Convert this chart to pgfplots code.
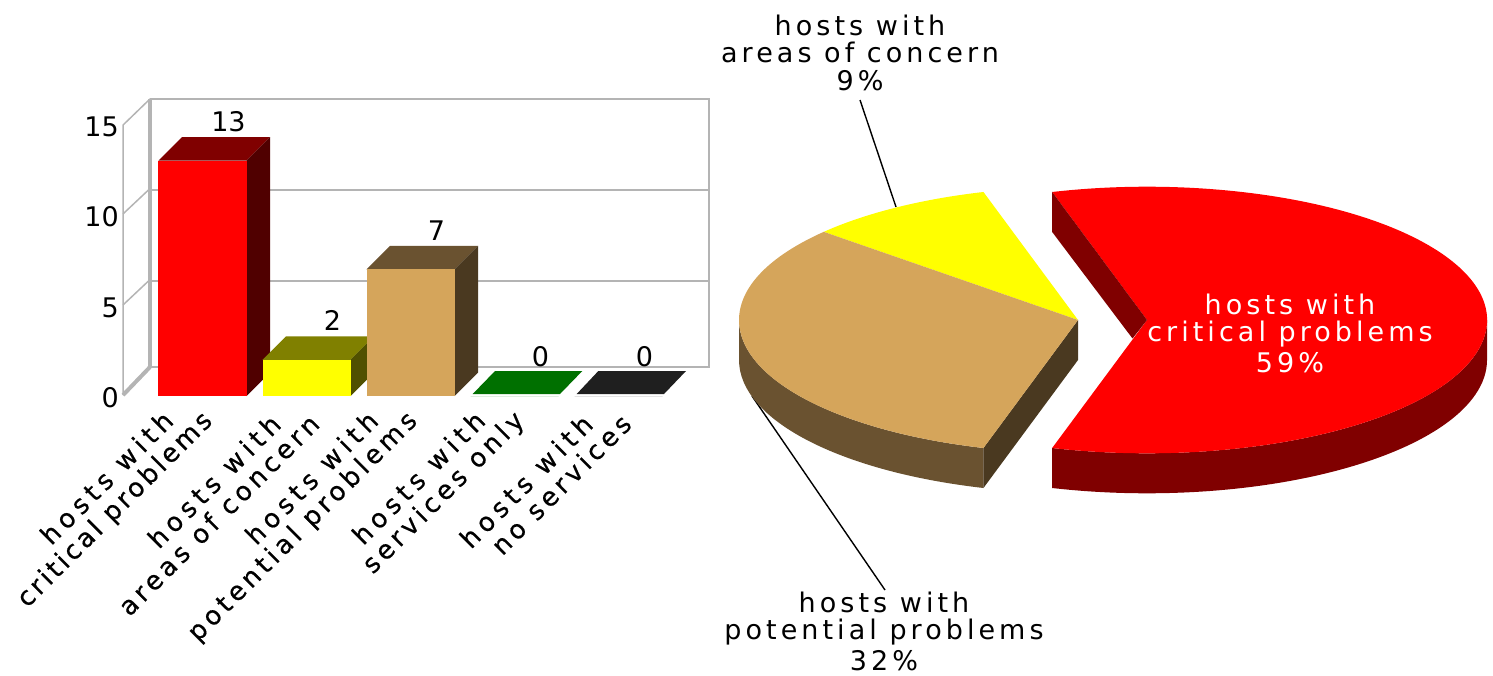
\documentclass[border=0pt]{standalone}
\usepackage{pgfplots}
\pgfplotsset{compat=1.18}
\usepackage{fontspec}
\setmainfont{DejaVu Sans}
\newfontfamily\spaced[LetterSpace=15]{DejaVu Sans}
\newfontfamily\spacedheavy[LetterSpace=12,FakeBold=0.5]{DejaVu Sans}
\newfontfamily\midheavy[LetterSpace=16,FakeBold=0.5]{DejaVu Sans}
\newfontfamily\wideheavy[LetterSpace=20,FakeBold=0.5]{DejaVu Sans}
\definecolor{wallgray}{HTML}{B4B4B4}
\definecolor{critF}{HTML}{FF0000}\definecolor{critT}{HTML}{800000}\definecolor{critS}{HTML}{500000}
\definecolor{areaF}{HTML}{FFFF00}\definecolor{areaT}{HTML}{808000}\definecolor{areaS}{HTML}{505000}
\definecolor{potF}{HTML}{D5A55B}\definecolor{potT}{HTML}{6A5230}\definecolor{potS}{HTML}{4A3920}
\definecolor{svcT}{HTML}{007000}\definecolor{noneT}{HTML}{1F1F1F}
\newcommand{\lbl}{\fontsize{27}{27}\selectfont\spaced}
\newcommand{\rotlbl}{\fontsize{26}{27}\selectfont\spacedheavy}
\newcommand{\hw}{{\wideheavy hosts with}\hspace*{27.6pt}}
% shares of the pie, in percent
\def\shareCrit{59}\def\shareArea{9}\def\sharePot{32}
\begin{document}
\begin{tikzpicture}
\path[use as bounding box] (0,0) rectangle (1493pt,675pt);
% ---------- bar chart with an oblique back wall ----------
\begin{axis}[
  anchor=origin, at={(202.5pt,279pt)},
  x=104pt, y=18.1pt,
  xmin=-0.764, xmax=5, ymin=-1, ymax=17,
  clip=false,
  axis line style={draw=none},
  major tick length=0pt,
  /pgf/number format/assume math mode=true,
  ytick={0,5,10,15},
  yticklabel style={font=\fontsize{27}{27}\selectfont, anchor=east, inner sep=0pt, xshift=-4pt, yshift=-2pt},
  xtick={0.03,1.03,2.0,3.03,4.03},
  xticklabels={{\hw\\critical problems},{\hw\\{\midheavy areas of concern}},{\hw\\{\midheavy potential problems}},{\hw\\{\midheavy services only}},{\hw\\{\midheavy no services}}},
  xticklabel style={font=\rotlbl, rotate=45, anchor=south east, align=right, inner sep=0pt, yshift=-17pt},
  ybar, bar width=88pt, bar shift=0pt,
  nodes near coords,
  every node near coord/.append style={font=\fontsize{27}{27}\selectfont, anchor=south, inner sep=0pt, xshift=26pt, yshift=29pt, color=black},
]
% back wall and its rules
\addplot[sharp plot, no markers, nodes near coords={}, wallgray, line width=2.5pt] coordinates {(-.505,16.41)(4.87,16.41)(4.87,1.60)(-.505,1.60)};
\addplot[sharp plot, no markers, nodes near coords={}, wallgray, line width=2.5pt] coordinates {(-.505,11.38)(4.87,11.38)};
\addplot[sharp plot, no markers, nodes near coords={}, wallgray, line width=2.5pt] coordinates {(-.505,6.35)(4.87,6.35)};
\addplot[sharp plot, no markers, nodes near coords={}, wallgray, line width=4pt] coordinates {(-.505,1.60)(-.505,16.41)};
\addplot[sharp plot, no markers, nodes near coords={}, wallgray, line width=1.5pt] coordinates {(-.764,0.05)(-.764,14.97)(-.505,16.41)};
\addplot[sharp plot, no markers, nodes near coords={}, wallgray, line width=1.5pt] coordinates {(-.764,10.06)(-.52,11.38)};
\addplot[sharp plot, no markers, nodes near coords={}, wallgray, line width=1.5pt] coordinates {(-.764,5.03)(-.52,6.35)};
\addplot[sharp plot, no markers, nodes near coords={}, wallgray, line width=4pt] coordinates {(-.764,0.05)(-.505,1.60)};
% top and side faces of the bars
\addplot[sharp plot, no markers, nodes near coords={}, fill=critT, draw=none] coordinates {(-.4231,13)(.4231,13)(.6491,14.298)(-.1971,14.298)} -- cycle;
\addplot[sharp plot, no markers, nodes near coords={}, fill=critS, draw=none] coordinates {(.4231,0)(.6491,1.298)(.6491,14.298)(.4231,13)} -- cycle;
\addplot[sharp plot, no markers, nodes near coords={}, fill=areaT, draw=none] coordinates {(.5769,2)(1.4231,2)(1.6491,3.298)(.8029,3.298)} -- cycle;
\addplot[sharp plot, no markers, nodes near coords={}, fill=areaS, draw=none] coordinates {(1.4231,0)(1.6491,1.298)(1.6491,3.298)(1.4231,2)} -- cycle;
\addplot[sharp plot, no markers, nodes near coords={}, fill=potT, draw=none] coordinates {(1.5769,7)(2.4231,7)(2.6491,8.298)(1.8029,8.298)} -- cycle;
\addplot[sharp plot, no markers, nodes near coords={}, fill=potS, draw=none] coordinates {(2.4231,0)(2.6491,1.298)(2.6491,8.298)(2.4231,7)} -- cycle;
\addplot[sharp plot, no markers, nodes near coords={}, fill=svcT, draw=none] coordinates {(2.598,.11)(3.4375,.11)(3.652,1.38)(2.8125,1.38)} -- cycle;
\addplot[sharp plot, no markers, nodes near coords={}, fill=noneT, draw=none] coordinates {(3.598,.11)(4.4375,.11)(4.649,1.38)(3.806,1.38)} -- cycle;
% front faces with their value labels
\addplot[fill=critF, draw=none] coordinates {(0,13)};
\addplot[fill=areaF, draw=none] coordinates {(1,2)};
\addplot[fill=potF, draw=none] coordinates {(2,7)};
\addplot[fill=svcT, draw=none] coordinates {(3,0)};
\addplot[fill=noneT, draw=none] coordinates {(4,0)};
\end{axis}
% ---------- exploded oblique pie ----------
\begin{axis}[
  anchor=origin, at={(0pt,0pt)},
  x=1pt, y=1pt, xmin=0, xmax=1493, ymin=0, ymax=675,
  hide axis, clip=false,
]
\pgfmathsetmacro{\aHalf}{\shareCrit*3.6/2}
\pgfmathsetmacro{\aArea}{\aHalf+\shareArea*3.6}
\pgfmathsetmacro{\aPot}{\aArea+\sharePot*3.6}
\def\cxL{1078}\def\cxR{1147}\def\cy{355}\def\rxL{339}\def\rxR{340}\def\ry{133.3}\def\dep{40}
% leader lines
\addplot[black, line width=1.4pt, no markers] coordinates {(860,575)(896,468)};
\addplot[black, line width=1.4pt, no markers] coordinates {(752,279)(885,85)};
% left part: walls
\fill[potT] (axis cs:\cxL-\rxL,\cy) arc[start angle=180,end angle=\aPot,x radius=\rxL pt,y radius=\ry pt] -- ++(0,-\dep pt) arc[start angle=\aPot,end angle=180,x radius=\rxL pt,y radius=\ry pt] -- cycle;
\fill[potS] (axis cs:\cxL,\cy) -- (axis cs:{\cxL+\rxL*cos(\aPot)},{\cy+\ry*sin(\aPot)}) -- ++(0,-\dep pt) -- (axis cs:\cxL,\cy-\dep) -- cycle;
% left part: top faces
\fill[areaF] (axis cs:\cxL,\cy) -- (axis cs:{\cxL+\rxL*cos(\aHalf)},{\cy+\ry*sin(\aHalf)}) arc[start angle=\aHalf,end angle=\aArea,x radius=\rxL pt,y radius=\ry pt] -- cycle;
\fill[potF] (axis cs:\cxL,\cy) -- (axis cs:{\cxL+\rxL*cos(\aArea)},{\cy+\ry*sin(\aArea)}) arc[start angle=\aArea,end angle=\aPot,x radius=\rxL pt,y radius=\ry pt] -- cycle;
% exploded slice: rim, top, upper cut face
\fill[critT] (axis cs:{\cxR+\rxR*cos(\aHalf)},{\cy-\ry*sin(\aHalf)}) arc[start angle=-\aHalf,end angle=0,x radius=\rxR pt,y radius=\ry pt] -- ++(0,-\dep pt) arc[start angle=0,end angle=-\aHalf,x radius=\rxR pt,y radius=\ry pt] -- cycle;
\fill[critF] (axis cs:\cxR,\cy) -- (axis cs:{\cxR+\rxR*cos(\aHalf)},{\cy-\ry*sin(\aHalf)}) arc[start angle=-\aHalf,end angle=\aHalf,x radius=\rxR pt,y radius=\ry pt] -- cycle;
\fill[critT] (axis cs:\cxR,\cy) -- (axis cs:{\cxR+\rxR*cos(\aHalf)},{\cy+\ry*sin(\aHalf)}) -- ++(0,-\dep pt) -- (axis cs:\cxR-14.5,\cy-18.5) -- cycle;
% slice labels
\node[font=\lbl, align=center] at (axis cs:860,622) {hosts with\\areas of concern\\[1pt]9\%};
\node[font=\lbl, align=center, text=white] at (axis cs:1290,342) {hosts with\\critical problems\\[4pt]59\%};
\node[font=\lbl, align=center] at (axis cs:884,44) {hosts with\\potential problems\\[4pt]32\%};
\end{axis}
\end{tikzpicture}
\end{document}
